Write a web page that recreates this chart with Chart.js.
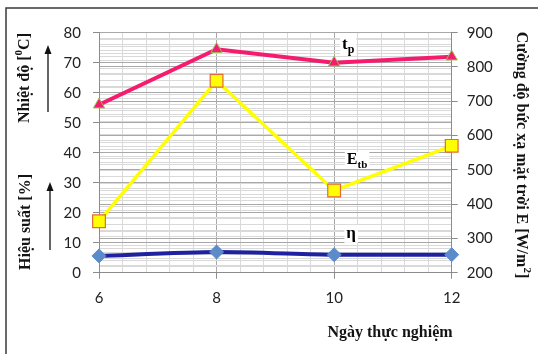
<!DOCTYPE html>
<html>
<head>
<meta charset="utf-8">
<script src="https://cdn.jsdelivr.net/npm/chart.js@4/dist/chart.umd.min.js"></script>
<style>
  html, body { margin: 0; padding: 0; background: #fff; }
  #wrap { width: 538px; height: 354px; position: relative; }
</style>
</head>
<body>
<div id="wrap"><canvas id="c" width="538" height="354"></canvas></div>
<script>
// Experiment days
const days = [6, 8, 10, 12];
// Panel temperature t_p [°C] (left axis)
const panelTemp = [56, 74.5, 70, 72];
// Mean solar irradiance E_tb [W/m²] (right axis)
const irradiance = [350, 760, 440, 570];
// Efficiency η [%] (left axis)
const efficiency = [5.6, 6.9, 6.0, 6.0];

// Axis ranges and steps
const leftRange = { min: 0, max: 80, major: 10, minor: 2 };
const rightRange = { min: 200, max: 900, major: 100, minor: 20 };
const xRange = { min: 6, max: 12, major: 2, minor: 0.4 };

const tickFont = { family: 'Lato, "Liberation Sans", sans-serif', size: 15 };
const tickColor = '#222';
const serif = '"Liberation Serif", "DejaVu Serif", serif';

const isMult = (v, m) => Math.abs(v / m - Math.round(v / m)) < 1e-6;

function gridStyle(major) {
  return {
    color: (c) => (c.tick && isMult(c.tick.value, major) ? '#a8a8a8' : '#d9d9d9'),
    lineWidth: 1,
    tickLength: 6,
    tickColor: (c) => (c.tick && isMult(c.tick.value, major) ? '#8c8c8c' : 'rgba(0,0,0,0)')
  };
}

const pts = (ys) => days.map((d, i) => ({ x: d, y: ys[i] }));

// Rich text: parts may be superscript or subscript
function drawRich(ctx, parts, cx, cy, rot, size) {
  const fontFor = (p) => `bold ${p.sup || p.sub ? Math.round(size * 0.68) : size}px ${serif}`;
  ctx.save();
  ctx.translate(cx, cy);
  ctx.rotate(rot);
  const widths = parts.map((p) => { ctx.font = fontFor(p); return ctx.measureText(p.t).width; });
  const total = widths.reduce((a, b) => a + b, 0);
  let x = -total / 2;
  ctx.textBaseline = 'middle';
  ctx.textAlign = 'left';
  parts.forEach((p, i) => {
    ctx.font = fontFor(p);
    const dy = p.sup ? -size * 0.38 : p.sub ? size * 0.3 : 0;
    ctx.fillText(p.t, x, dy);
    x += widths[i];
  });
  ctx.restore();
  return total;
}

function upArrow(ctx, x, yBottom, yTop) {
  ctx.save();
  ctx.strokeStyle = '#111';
  ctx.fillStyle = '#111';
  ctx.lineWidth = 1.3;
  ctx.beginPath();
  ctx.moveTo(x, yBottom);
  ctx.lineTo(x, yTop + 6);
  ctx.stroke();
  ctx.beginPath();
  ctx.moveTo(x, yTop);
  ctx.lineTo(x - 3.5, yTop + 9);
  ctx.lineTo(x + 3.5, yTop + 9);
  ctx.closePath();
  ctx.fill();
  ctx.restore();
}

// Series name tags placed in data space near day 10
const seriesTags = [
  { parts: [{ t: 't' }, { t: 'p', sub: true }], x: 10.24, y: 75.9, size: 17 },
  { parts: [{ t: 'E' }, { t: 'tb', sub: true }], x: 10.39, y: 37.6, size: 16 },
  { parts: [{ t: 'η' }], x: 10.29, y: 13.1, size: 17 }
];

const decorations = {
  id: 'decorations',
  afterDatasetsDraw(chart) {
    const ctx = chart.ctx;
    const xs = chart.scales.x, ys = chart.scales.y;
    ctx.save();
    ctx.fillStyle = '#000';
    seriesTags.forEach((tag) => {
      const px = xs.getPixelForValue(tag.x), py = ys.getPixelForValue(tag.y);
      let w = 0;
      tag.parts.forEach((p) => {
        ctx.font = `bold ${p.sub ? Math.round(tag.size * 0.68) : tag.size}px ${serif}`;
        w += ctx.measureText(p.t).width;
      });
      ctx.fillStyle = '#fff';
      ctx.fillRect(px - w / 2 - 2, py - tag.size * 0.5, w + 4, tag.size + 1);
      ctx.fillStyle = '#000';
      drawRich(ctx, tag.parts, px, py, 0, tag.size);
    });
    ctx.restore();
  },
  afterDraw(chart) {
    const ctx = chart.ctx;
    ctx.save();
    // frame
    ctx.strokeStyle = '#3a3a3a';
    ctx.lineWidth = 1.5;
    ctx.beginPath();
    ctx.moveTo(538, 8);
    ctx.lineTo(6, 8);
    ctx.lineTo(6, 354);
    ctx.stroke();

    ctx.fillStyle = '#141414';
    // left axis titles
    drawRich(ctx, [{ t: 'Nhiệt độ [' }, { t: '0', sup: true }, { t: 'C]' }], 25, 78, -Math.PI / 2, 16);
    drawRich(ctx, [{ t: 'Hiệu suất [%]' }], 26, 222, -Math.PI / 2, 16);
    upArrow(ctx, 48, 112, 45);
    upArrow(ctx, 50, 250, 182);
    // x axis title
    drawRich(ctx, [{ t: 'Ngày thực nghiệm' }], 390, 333, 0, 16);
    // right axis title
    drawRich(ctx, [{ t: 'Cường độ bức xạ mặt trời E [W/m' }, { t: '2', sup: true }, { t: ']' }], 521, 155, Math.PI / 2, 16);
    ctx.restore();
  }
};

new Chart(document.getElementById('c'), {
  type: 'line',
  data: {
    datasets: [
      {
        label: 'η',
        data: pts(efficiency),
        yAxisID: 'y',
        borderColor: '#1f22a0',
        borderWidth: 4,
        tension: 0.25,
        pointStyle: 'rectRot',
        pointRadius: 7,
        pointBackgroundColor: '#5b8bc9',
        pointBorderColor: '#5b8bc9',
        pointBorderWidth: 1,
        clip: false
      },
      {
        label: 'E_tb',
        data: pts(irradiance),
        yAxisID: 'y1',
        borderColor: '#ffff00',
        borderWidth: 3.5,
        pointStyle: 'rect',
        pointRadius: 9,
        pointBackgroundColor: '#ffff00',
        pointBorderColor: '#e2693c',
        pointBorderWidth: 1.2,
        clip: false
      },
      {
        label: 't_p',
        data: pts(panelTemp),
        yAxisID: 'y',
        borderColor: '#f51b6e',
        borderWidth: 4,
        pointStyle: 'triangle',
        pointRadius: 6.5,
        pointBackgroundColor: '#f51b6e',
        pointBorderColor: '#9bbb59',
        pointBorderWidth: 1,
        clip: false
      }
    ]
  },
  options: {
    responsive: false,
    devicePixelRatio: 1,
    animation: false,
    layout: { padding: { top: 32.7, left: 0, right: 0, bottom: 0 } },
    plugins: { legend: { display: false }, tooltip: { enabled: false } },
    scales: {
      x: {
        type: 'linear',
        min: xRange.min,
        max: xRange.max,
        ticks: {
          stepSize: xRange.minor,
          autoSkip: false,
          maxRotation: 0,
          padding: 10,
          font: tickFont,
          color: tickColor,
          callback: (v) => (isMult(v, xRange.major) ? Math.round(v) : '')
        },
        grid: gridStyle(xRange.major),
        border: { color: '#8c8c8c' },
        afterFit: (s) => { s.height = 81.3; }
      },
      y: {
        position: 'left',
        min: leftRange.min,
        max: leftRange.max,
        ticks: {
          stepSize: leftRange.minor,
          autoSkip: false,
          padding: 12,
          font: tickFont,
          color: tickColor,
          callback: (v) => (isMult(v, leftRange.major) ? v : '')
        },
        grid: gridStyle(leftRange.major),
        border: { color: '#8c8c8c' },
        afterFit: (s) => { s.width = 99; }
      },
      y1: {
        position: 'right',
        min: rightRange.min,
        max: rightRange.max,
        ticks: {
          stepSize: rightRange.minor,
          autoSkip: false,
          padding: 9,
          font: tickFont,
          color: tickColor,
          callback: (v) => (isMult(v, rightRange.major) ? v : '')
        },
        grid: gridStyle(rightRange.major),
        border: { color: '#8c8c8c' },
        afterFit: (s) => { s.width = 86.3; }
      }
    }
  },
  plugins: [decorations]
});
</script>
</body>
</html>
